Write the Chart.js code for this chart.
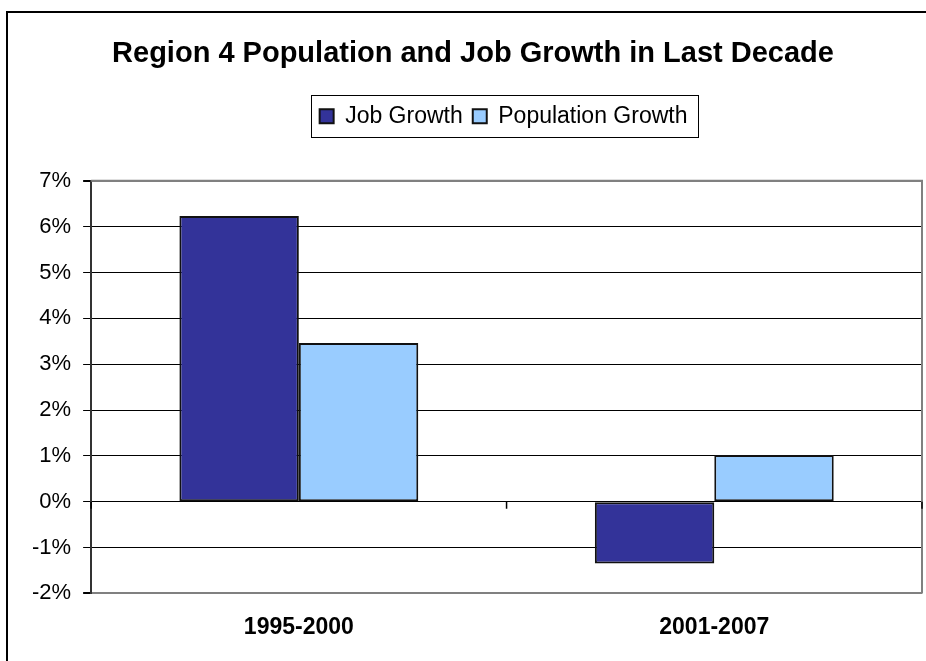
<!DOCTYPE html>
<html>
<head>
<meta charset="utf-8">
<script src="https://cdn.jsdelivr.net/npm/chart.js@4.4.1/dist/chart.umd.min.js"></script>
<style>
    body { margin: 0; background: #fff; overflow: hidden; }
    .chart-container { position: relative; width: 926px; height: 661px; }
</style>
</head>
<body>
<div class="chart-container">
    <canvas id="growthChart"></canvas>
</div>
<script>
const categories = ['1995-2000', '2001-2007'];
const jobGrowth = [6.23, -1.35];
const populationGrowth = [3.46, 1.02];
const yMin = -2;
const yMax = 7;
const titleText = 'Region 4 Population and Job Growth in Last Decade';

const FONT = "'Liberation Sans', Arial, sans-serif";

// Excel-style frame bits: outer border, plot border, legend box, zero-line ticks
const framePlugin = {
    id: 'frame',
    afterLayout(chart) {
        // pull title + legend up so there is a gap above the plot
        const dy = chart.titleBlock.top - 12;
        chart.titleBlock.top -= dy;
        chart.titleBlock.bottom -= dy;
        chart.legend.top -= dy;
        chart.legend.bottom -= dy;
        // title is centred a bit left of the plot, legend over the plot
        chart.titleBlock.left = 20;
        chart.titleBlock.right = 926;
        chart.legend.left = chart.chartArea.left - 3;
        chart.legend.right = chart.chartArea.right - 3;
    },
    beforeDraw(chart) {
        const ctx = chart.ctx;
        ctx.save();
        ctx.strokeStyle = '#000';
        ctx.lineWidth = 2;
        ctx.strokeRect(7, 12, 1000, 1000);
        ctx.restore();
    },
    beforeDatasetsDraw(chart) {
        const ctx = chart.ctx;
        const area = chart.chartArea;
        const x = chart.scales.x;
        const y = chart.scales.y;
        ctx.save();
        ctx.strokeStyle = '#808080';
        ctx.lineWidth = 2;
        ctx.beginPath();
        ctx.moveTo(area.left, area.top);
        ctx.lineTo(area.right, area.top);
        ctx.lineTo(area.right, area.bottom);
        ctx.stroke();

        // category boundary ticks on the zero line
        const zero = y.getPixelForValue(0);
        ctx.strokeStyle = '#000';
        ctx.lineWidth = 1.5;
        const step = x.getPixelForValue(1) - x.getPixelForValue(0);
        ctx.beginPath();
        for (let i = 0; i <= categories.length; i++) {
            const bx = x.getPixelForValue(0) - step / 2 + i * step;
            ctx.moveTo(bx, zero);
            ctx.lineTo(bx, zero + 7);
        }
        ctx.stroke();
        ctx.restore();
    },
    afterDraw(chart) {
        const boxes = chart.legend.legendHitBoxes;
        if (!boxes || !boxes.length) return;
        const left = Math.min(...boxes.map(b => b.left)) - 9;
        const right = Math.max(...boxes.map(b => b.left + b.width)) + 10;
        const top = boxes[0].top - 9.5;
        const bottom = boxes[0].top + boxes[0].height + 9.5;
        const ctx = chart.ctx;
        ctx.save();
        ctx.strokeStyle = '#000';
        ctx.lineWidth = 1;
        ctx.strokeRect(Math.round(left) + 0.5, Math.round(top) + 0.5, Math.round(right - left), Math.round(bottom - top));
        ctx.restore();
    }
};

const ctx = document.getElementById('growthChart').getContext('2d');
new Chart(ctx, {
    type: 'bar',
    data: {
        labels: categories,
        datasets: [
            {
                label: 'Job Growth',
                data: jobGrowth,
                backgroundColor: '#333399',
                borderColor: '#111',
                borderWidth: 2,
                borderSkipped: false
            },
            {
                label: 'Population Growth',
                data: populationGrowth,
                backgroundColor: '#99CCFF',
                borderColor: '#111',
                borderWidth: 2,
                borderSkipped: false
            }
        ]
    },
    options: {
        responsive: true,
        maintainAspectRatio: false,
        animation: false,
        categoryPercentage: 0.575,
        barPercentage: 1,
        layout: {
            padding: { left: 20, right: 4, top: 55, bottom: 0 }
        },
        plugins: {
            title: {
                display: true,
                text: titleText,
                color: '#000',
                font: { family: FONT, size: 29, weight: 'bold' },
                padding: { top: 25, bottom: 23 }
            },
            legend: {
                position: 'top',
                labels: {
                    color: '#000',
                    font: { family: FONT, size: 23 },
                    boxWidth: 14,
                    boxHeight: 14,
                    padding: 10
                }
            },
            tooltip: { enabled: false }
        },
        scales: {
            x: {
                grid: { display: false, drawTicks: false },
                border: { display: false },
                ticks: {
                    color: '#000',
                    padding: 20,
                    font: { family: FONT, size: 23, weight: 'bold' }
                }
            },
            y: {
                min: yMin,
                max: yMax,
                border: { display: true, color: '#333', width: 2 },
                grid: {
                    color: (c) => (c.tick && (c.tick.value === yMin || c.tick.value === yMax)) ? '#808080' : '#000',
                    lineWidth: (c) => (c.tick && (c.tick.value === yMin || c.tick.value === yMax)) ? 2 : 1,
                    tickColor: '#000',
                    tickLength: 8
                },
                ticks: {
                    stepSize: 1,
                    color: '#000',
                    padding: 12,
                    font: { family: FONT, size: 22 },
                    callback: (v) => v + '%'
                }
            }
        }
    },
    plugins: [framePlugin]
});
</script>
</body>
</html>
